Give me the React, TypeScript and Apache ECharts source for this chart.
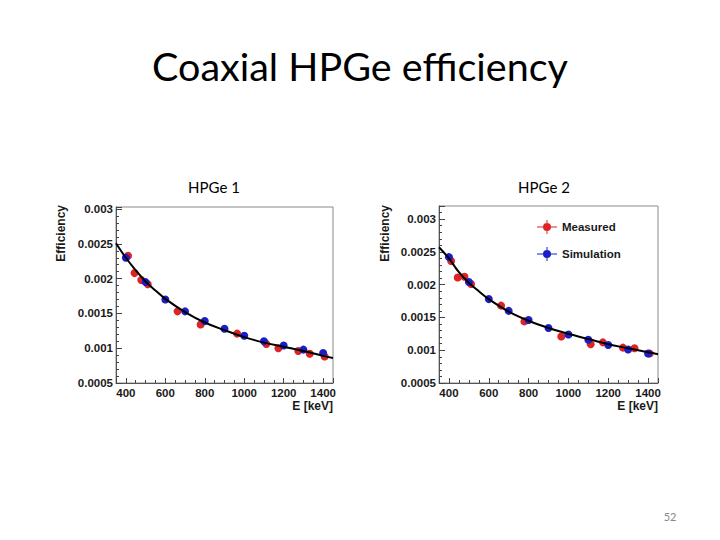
import React, { useEffect, useRef } from "react";
import * as echarts from "echarts";

// Energies (keV)
const measuredEnergy = [411, 444, 478, 511, 662, 779, 964, 1112, 1173, 1274, 1332, 1408];
const simEnergy = [400, 500, 600, 700, 800, 900, 1000, 1100, 1200, 1300, 1400];
const fitEnergy = [350, 400, 450, 500, 550, 600, 700, 800, 900, 1000, 1100, 1200, 1300, 1400, 1450];

// HPGe 1
const measured1 = [0.00233, 0.00208, 0.00198, 0.00192, 0.00153, 0.00134, 0.00121, 0.00106, 0.001, 0.00096, 0.00092, 0.00088];
const sim1 = [0.0023, 0.00195, 0.0017, 0.00153, 0.00139, 0.00128, 0.00118, 0.0011, 0.00104, 0.00098, 0.00093];
const fit1 = [0.00251, 0.0023, 0.00212, 0.00196, 0.00183, 0.00171, 0.00152, 0.00137, 0.00126, 0.00116, 0.00108, 0.00102, 0.00096, 0.00089, 0.00086];

// HPGe 2
const measured2 = [0.00236, 0.00211, 0.00212, 0.00201, 0.00168, 0.00144, 0.00121, 0.00109, 0.00112, 0.00104, 0.00103, 0.00095];
const sim2 = [0.00242, 0.00204, 0.00178, 0.0016, 0.00146, 0.00134, 0.00124, 0.00116, 0.00108, 0.00101, 0.00095];
const fit2 = [0.00257, 0.0024, 0.00219, 0.00203, 0.0019, 0.00178, 0.00159, 0.00145, 0.00134, 0.00125, 0.00117, 0.00109, 0.00103, 0.00097, 0.00094];

const yMax = [0.00303, 0.0032];
const panelTitles = ["HPGe 1", "HPGe 2"];

const RED = "#dd2424";
const BLUE = "#1c1cc8";
const AXFONT = "'Liberation Sans', Arial, sans-serif";

const zip = (xs: number[], ys: number[]) => xs.map((x, i) => [x, ys[i]]);

export default function App() {
  const ref = useRef<HTMLDivElement>(null);
  useEffect(() => {
    if (!ref.current) return;
    const chart = echarts.init(ref.current, undefined, { renderer: "svg" });
    const grids = [
      { left: 116, top: 207, width: 217, height: 176 },
      { left: 439, top: 206, width: 219, height: 177 },
    ];
    const xAxes = grids.map((_, i) => ({
      type: "value",
      gridIndex: i,
      min: 350,
      max: 1450,
      splitNumber: 5,
      axisLine: { show: true, onZero: false, lineStyle: { color: "#555", width: 1 } },
      axisTick: { show: true, inside: true, length: 5, lineStyle: { color: "#444" } },
      minorTick: { show: true, splitNumber: 4, length: 3, lineStyle: { color: "#444" } },
      splitLine: { show: false },
      axisLabel: {
        showMinLabel: false,
        showMaxLabel: false,
        margin: 4,
        color: "#1a1a1a",
        fontFamily: AXFONT,
        fontWeight: "bold",
        fontSize: 11.5,
        formatter: (v: number) => String(v),
      },
    }));
    const yAxes = grids.map((_, i) => ({
      type: "value",
      gridIndex: i,
      min: 0.0005,
      max: yMax[i],
      interval: 0.0005,
      axisLine: { show: true, onZero: false, lineStyle: { color: "#555", width: 1 } },
      axisTick: { show: true, inside: true, length: 6, lineStyle: { color: "#444" } },
      minorTick: { show: true, splitNumber: 5, length: 3, lineStyle: { color: "#444" } },
      splitLine: { show: false },
      axisLabel: {
        showMaxLabel: false,
        margin: 3,
        color: "#1a1a1a",
        fontFamily: AXFONT,
        fontWeight: "bold",
        fontSize: 11.5,
        formatter: (v: number) => String(Math.round(v * 10000) / 10000),
      },
    }));

    const series: any[] = [];
    const sets = [
      { m: measured1, s: sim1, f: fit1 },
      { m: measured2, s: sim2, f: fit2 },
    ];
    sets.forEach((d, i) => {
      series.push({
        type: "scatter",
        name: "Measured",
        xAxisIndex: i,
        yAxisIndex: i,
        data: zip(measuredEnergy, d.m),
        symbol: "circle",
        symbolSize: 8,
        itemStyle: { color: RED, opacity: 1 },
        z: 2,
      });
      series.push({
        type: "scatter",
        name: "Simulation",
        xAxisIndex: i,
        yAxisIndex: i,
        data: zip(simEnergy, d.s),
        symbol: "circle",
        symbolSize: 8,
        itemStyle: { color: BLUE, opacity: 1 },
        z: 2,
      });
      series.push({
        type: "line",
        name: "Fit " + (i + 1),
        xAxisIndex: i,
        yAxisIndex: i,
        data: zip(fitEnergy, d.f),
        smooth: 0.4,
        showSymbol: false,
        symbol: "none",
        lineStyle: { color: "#000", width: 2 },
        z: 3,
      });
    });

    const legendIcon =
      "path://M0,6.5H20V7.5H0Z M9.5,0H10.5V14H9.5Z M14,7A4,4 0 1,1 6,7A4,4 0 1,1 14,7Z";

    const graphic: any[] = [
      {
        type: "text",
        x: 360,
        y: 85,
        style: {
          text: "Coaxial HPGe efficiency",
          fontFamily: "Lato, 'Open Sans', sans-serif",
          fontSize: 39.5,
          fill: "#000",
          align: "center",
          verticalAlign: "bottom",
        },
      },
      ...panelTitles.map((t, i) => ({
        type: "text",
        x: i === 0 ? 214 : 544,
        y: 187,
        style: {
          text: t,
          fontFamily: "Lato, 'Open Sans', sans-serif",
          fontSize: 15,
          fill: "#000",
          align: "center",
          verticalAlign: "middle",
        },
      })),
      ...[61, 385].map((x) => ({
        type: "text",
        x,
        y: 205,
        rotation: Math.PI / 2,
        style: {
          text: "Efficiency",
          fontFamily: AXFONT,
          fontWeight: "bold",
          fontSize: 12,
          fill: "#1a1a1a",
          align: "right",
          verticalAlign: "middle",
        },
      })),
      ...[333, 658].map((x) => ({
        type: "text",
        x,
        y: 406,
        style: {
          text: "E [keV]",
          fontFamily: AXFONT,
          fontWeight: "bold",
          fontSize: 12,
          fill: "#1a1a1a",
          align: "right",
          verticalAlign: "middle",
        },
      })),
      {
        type: "text",
        x: 670,
        y: 516,
        style: {
          text: "52",
          fontFamily: "Lato, 'Open Sans', sans-serif",
          fontSize: 11,
          fill: "#888",
          align: "center",
          verticalAlign: "middle",
        },
      },
    ];

    chart.setOption({
      animation: false,
      backgroundColor: "#ffffff",
      grid: grids.map((g) => ({ ...g, show: true, borderColor: "#8a8a8a", borderWidth: 1, backgroundColor: "transparent" })),
      xAxis: xAxes,
      yAxis: yAxes,
      legend: {
        data: ["Measured", "Simulation"],
        orient: "vertical",
        left: 537,
        top: 220,
        padding: 0,
        itemWidth: 20,
        itemHeight: 14,
        itemGap: 13,
        icon: legendIcon,
        textStyle: { fontFamily: AXFONT, fontWeight: "bold", fontSize: 11.5, color: "#1a1a1a" },
        selectedMode: false,
      },
      series,
      graphic,
    });
    return () => chart.dispose();
  }, []);
  return (
    <div
      ref={ref}
      style={{ position: "fixed", left: 0, top: 0, width: 720, height: 540, background: "#fff" }}
    />
  );
}
